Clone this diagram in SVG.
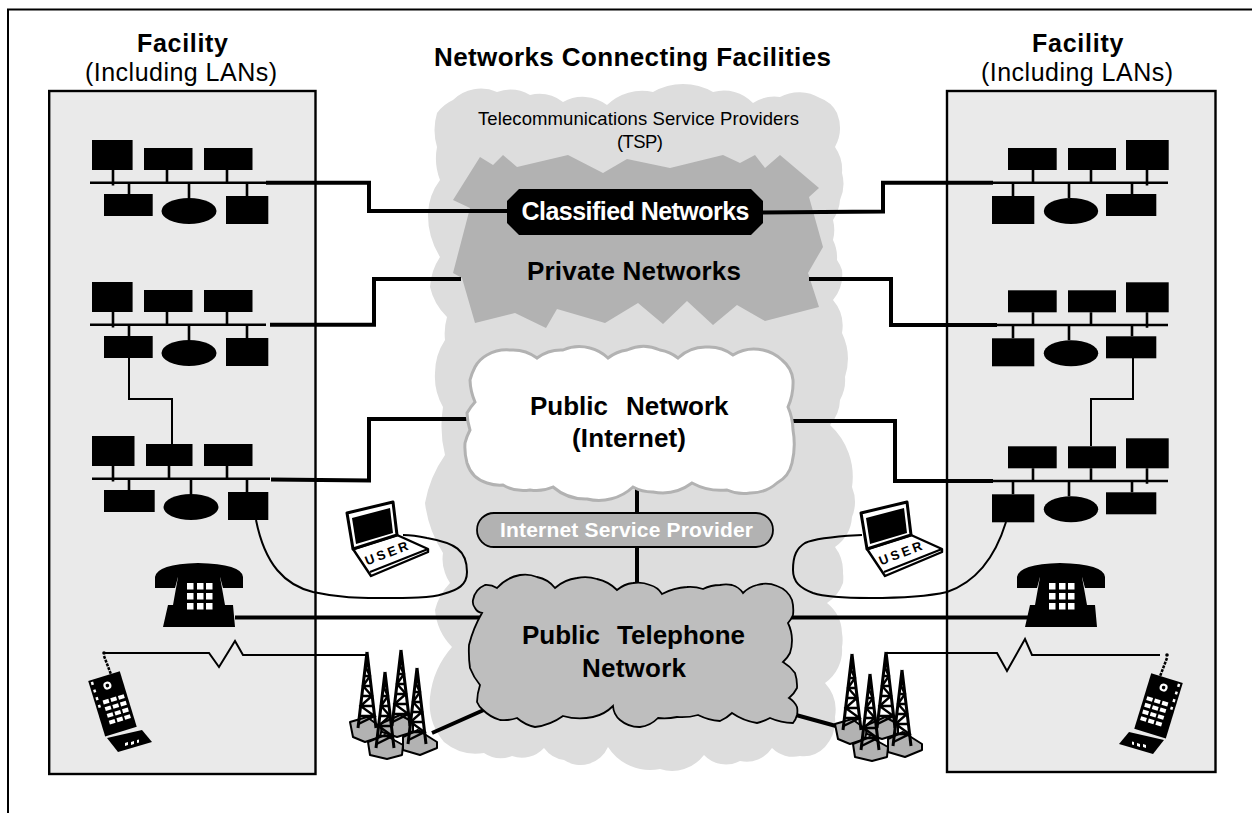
<svg xmlns="http://www.w3.org/2000/svg" xmlns:xlink="http://www.w3.org/1999/xlink" width="1252" height="813" viewBox="0 0 1252 813">
<style>
text{font-family:"Liberation Sans",Arial,sans-serif;fill:#000}
.b{font-weight:700;font-size:26px}
.f{font-weight:700;font-size:25px}
.r{font-size:25px}
.s{font-size:18.500px}
.fac{fill:#eaeaea;stroke:#000;stroke-width:2.4}
.k{fill:#000}
.bus{stroke:#000;stroke-width:2.6;fill:none}
.th{stroke:#000;stroke-width:4;fill:none;stroke-linejoin:miter}
.tn{stroke:#000;stroke-width:2;fill:none;stroke-linejoin:miter}
.hex{fill:#b2b2b2;stroke:#000;stroke-width:2;stroke-linejoin:round}
.tw{stroke:#000;fill:none}
.w{fill:#fff}
</style>
<defs>
<g id="lanL">
<rect class="k" x="92" y="140" width="40.6" height="30"/>
<rect class="k" x="144" y="148" width="48.5" height="22"/>
<rect class="k" x="204" y="148" width="48.5" height="22"/>
<path class="bus" d="M90 182.7H266M113 170V185.5M167 170V182.7M227 170V182.7M129 182.7V194M189 182.7V198M247 182.7V196"/>
<rect class="k" x="104" y="194" width="48.7" height="22"/>
<ellipse class="k" cx="189" cy="211" rx="27.5" ry="13"/>
<rect class="k" x="226" y="196" width="42.3" height="28"/>
</g>
<g id="lanR">
<rect class="k" x="1008" y="148" width="48.7" height="22"/>
<rect class="k" x="1068" y="148" width="48" height="22"/>
<rect class="k" x="1126" y="140" width="42.7" height="30"/>
<path class="bus" d="M993 182.7H1168M1033 170V182.7M1091 170V182.7M1147 170V185.5M1013 182.7V196M1069 182.7V198M1132 182.7V194"/>
<rect class="k" x="992" y="196" width="42.3" height="28"/>
<ellipse class="k" cx="1071" cy="211" rx="27.2" ry="13"/>
<rect class="k" x="1106" y="194" width="50.3" height="22"/>
</g>
<g id="desk">
<path class="k" d="M155 588V577Q157 564 198 563Q242 564 243 577V588H223L220 577H178L175 588Z"/>
<path class="k" d="M178 577H220L225 605H233L235 627H163L168 605H173Z"/>
<g class="w">
<rect x="187" y="583" width="6.5" height="6.5"/><rect x="197" y="583" width="6.5" height="6.5"/><rect x="206" y="583" width="6.5" height="6.5"/>
<rect x="187" y="593" width="6.5" height="6.5"/><rect x="197" y="593" width="6.5" height="6.5"/><rect x="206" y="593" width="6.5" height="6.5"/>
<rect x="187" y="603" width="6.5" height="6.5"/><rect x="197" y="603" width="6.5" height="6.5"/><rect x="206" y="603" width="6.5" height="6.5"/>
</g>
</g>
<g id="laptop">
<path d="M353 549L397 535L428 549L428 552L371 576Z" fill="#fff" stroke="#000" stroke-width="2.4" stroke-linejoin="round"/>
<path d="M370 572L428 549" stroke="#000" stroke-width="2" fill="none"/>
<path d="M347 513L393 502L397 535L353 549Z" fill="#fff" stroke="#000" stroke-width="3" stroke-linejoin="round"/>
<path class="k" d="M352 518L390 508L393 533L356 544Z"/>
<text transform="translate(367 565.500) rotate(-21)" font-size="13" font-weight="700" letter-spacing="3">USER</text>
</g>
<g id="tower">
<path class="tw" stroke-width="3" d="M0 0L-9 76M0 0L9 76"/>
<path class="tw" stroke-width="2.4" d="M-2 14H2M-3 24H3M-4 34H4M-5 44H5M-6.500 54H6.500M-7.500 64H7.500M-2 14L3 24L-4 34L5 44L-6.500 54L7.500 64L-8.500 72"/>
</g>
<g id="cluster">
<polygon class="hex" points="350,722 367,717 382,728 380,737 365,742 353,737"/>
<polygon class="hex" points="380,724 400,715 413,722 413,732 397,737 382,732"/>
<polygon class="hex" points="403,737 418,730 437,742 437,748 420,755 403,750"/>
<polygon class="hex" points="368,742 385,735 403,745 402,755 387,759 370,755"/>
<use xlink:href="#tower" transform="translate(367 652)"/>
<use xlink:href="#tower" transform="translate(401 650)"/>
<use xlink:href="#tower" transform="translate(385 672)"/>
<use xlink:href="#tower" transform="translate(417 668)"/>
</g>
<g id="mobile">
<circle cx="104" cy="653" r="1.800" class="k"/>
<path d="M104 656L112 677" stroke="#000" stroke-width="2.500" stroke-dasharray="3 1"/>
<g transform="translate(112 704) rotate(-17)">
<rect class="k" x="-16" y="-29" width="33" height="58"/>
<g class="w">
<circle cx="1" cy="-19" r="4"/>
<rect x="-14" y="-27" width="2.500" height="3"/><rect x="-14" y="-19" width="2.500" height="3"/><rect x="-14" y="-11" width="2.500" height="3"/>
<rect x="-14" y="-3" width="2.500" height="3"/>
<rect x="-8" y="-6" width="6" height="4"/><rect x="0" y="-6" width="6" height="4"/><rect x="8" y="-6" width="6" height="4"/>
<rect x="-8" y="1" width="6" height="4"/><rect x="0" y="1" width="6" height="4"/><rect x="8" y="1" width="6" height="4"/>
<rect x="-8" y="8" width="6" height="4"/><rect x="0" y="8" width="6" height="4"/><rect x="8" y="8" width="6" height="4"/>
<rect x="-8" y="15" width="6" height="4"/><rect x="0" y="15" width="6" height="4"/><rect x="8" y="15" width="6" height="4"/>
</g>
<circle cx="1" cy="-19" r="1.800" class="k"/>
</g>
<path class="k" d="M107 738L142 730L152 742L118 752Z"/>
<path class="w" d="M125 743l3-1v3l-3 1zM131 742l3-1v3l-3 1zM137 740l2-.5v3l-2 .5z"/>
</g>
</defs>

<path id="frame" d="M8 813V9.500H1252" fill="none" stroke="#000" stroke-width="2"/>

<g id="tsp-cloud">
<path fill="#dddddd" d="M437 113A40 40 0 0 1 453 100A40 40 0 0 1 497 92A40 40 0 0 1 530 95A40 40 0 0 1 563 102A40 40 0 0 1 607 105A50 50 0 0 1 653 92A60 60 0 0 1 713 92A40 40 0 0 1 753 103A40 40 0 0 1 780 97A40 40 0 0 1 820 98A30 30 0 0 1 837 113A40 40 0 0 1 835 147A40 40 0 0 1 842 173A40 40 0 0 1 840 200A40 40 0 0 1 833 220A40 40 0 0 1 833 240A40 40 0 0 1 837 260A40 40 0 0 1 842 270A40 40 0 0 1 833 300A40 40 0 0 1 842 333A60 60 0 0 1 845 377A40 40 0 0 1 840 400A40 40 0 0 1 830 425A70 70 0 0 1 852 487A40 40 0 0 1 852 517A40 40 0 0 1 835 547A40 40 0 0 1 843 573A40 40 0 0 1 843 583A40 40 0 0 1 827 603A40 40 0 0 1 842 633A40 40 0 0 1 842 647A40 40 0 0 1 825 683A40 40 0 0 1 835 717A40 40 0 0 1 825 747A30 30 0 0 1 800 756A30 30 0 0 1 772 748A30 30 0 0 1 740 761A30 30 0 0 1 704 755A40 40 0 0 1 660 769A50 50 0 0 1 608 747A30 30 0 0 1 564 760A30 30 0 0 1 544 748A30 30 0 0 1 512 756A30 30 0 0 1 484 753A50 50 0 0 1 444 742A60 60 0 0 1 430 697A90 90 0 0 1 452 647A60 60 0 0 1 435 610A60 60 0 0 1 450 583A40 40 0 0 1 445 573A40 40 0 0 1 443 553A120 120 0 0 1 425 503A120 120 0 0 1 445 455A120 120 0 0 1 443 407A60 60 0 0 1 435 373A60 60 0 0 1 445 340A60 60 0 0 1 447 317A60 60 0 0 1 430 287A60 60 0 0 1 440 257A80 80 0 0 1 428 213A60 60 0 0 1 440 180A60 60 0 0 1 437 147A60 60 0 0 1 437 113Z"/>
<text class="s" x="478" y="125" textLength="321">Telecommunications Service Providers</text>
<text class="s" x="617" y="148" textLength="46">(TSP)</text>
</g>

<g id="facility-left">
<rect class="fac" x="49.200" y="91" width="266.300" height="683"/>
<text class="f" x="137" y="52" textLength="91">Facility</text>
<text class="r" x="85" y="80.500" textLength="192">(Including LANs)</text>
</g>
<g id="facility-right">
<rect class="fac" x="947" y="91" width="268.500" height="681"/>
<text class="f" x="1032" y="52" textLength="91.500">Facility</text>
<text class="r" x="981" y="80.500" textLength="192">(Including LANs)</text>
</g>
<g id="title"><text class="b" x="434" y="66" textLength="397">Networks Connecting Facilities</text></g>

<g id="private-networks">
<polygon fill="#b2b2b2" points="480,157 493,165 503,155 517,167 568,155 603,173 627,159 670,168 723,155 740,163 755,155 765,168 780,155 819,188 809,197 823,247 808,273 819,307 765,321 737,305 713,325 687,301 663,324 638,303 605,323 557,309 546,328 515,313 475,323 462,278 453,273 470,208 453,200"/>
<text class="b" x="527" y="280" textLength="214">Private Networks</text>
</g>

<g id="connectors">
<path class="th" d="M266 182.700H369V211H510"/>
<path class="th" d="M993 182.700H883V211.500L760 212.500"/>
<path class="th" d="M270 324.700H374V279H461"/>
<path class="th" d="M997 325H891V279H809"/>
<path class="th" d="M271 479.500L369 480.500V419H470"/>
<path class="th" d="M993 481H895V421H790"/>
<path class="tn" d="M129 358V399H172V444"/>
<path class="tn" d="M1133 358V399H1091V446"/>
<path class="th" d="M637 489V513M637 547V585"/>
<path class="th" d="M235 617.500H480"/>
<path class="th" d="M788 617.500H1030"/>
<path class="th" d="M432 733L486 709"/>
<path class="th" d="M796 715L836 726"/>
<path class="tn" d="M104 653H209L219 667L235 641L243 655H367"/>
<path class="tn" d="M886 653H997L1007 671L1025 639L1032 655H1160"/>
<path class="tn" d="M256 520C265 565 285 585 313 592C340 598 360 598 377 598C410 598 432 598 443 594C458 590 467 585 467 572C467 550 455 543 427 538C418 536 410 535 403 535"/>
<path class="tn" d="M1006 522C998 548 982 580 947 592C925 597 895 598 870 598C850 598 825 597 813 593C800 588 793 582 793 570C793 555 797 548 805 543C818 537 845 536 862 535"/>
</g>

<g id="classified-networks">
<polygon class="k" points="519,189 751,189 763,201 763,223 751,235 519,235 507,223 507,201"/>
<text class="b" x="521.500" y="220" textLength="228" style="fill:#fff;font-size:25px">Classified Networks</text>
</g>
<g id="public-network">
<path fill="#fff" stroke="#b2b2b2" stroke-width="3" d="M475 367A30 30 0 0 1 487 355A40 40 0 0 1 510 350A40 40 0 0 1 537 358A40 40 0 0 1 563 350A40 40 0 0 1 590 348A40 40 0 0 1 608 358A40 40 0 0 1 627 350A40 40 0 0 1 660 350A40 40 0 0 1 678 358A40 40 0 0 1 707 347A40 40 0 0 1 733 355A40 40 0 0 1 763 350A40 40 0 0 1 782 360A30 30 0 0 1 793 380A60 60 0 0 1 788 407A60 60 0 0 1 793 430A80 80 0 0 1 792 463A30 30 0 0 1 777 483A40 40 0 0 1 750 493A40 40 0 0 1 727 490A60 60 0 0 1 692 483A50 50 0 0 1 653 492A40 40 0 0 1 633 487A50 50 0 0 1 587 499A50 50 0 0 1 553 487A40 40 0 0 1 530 490A40 40 0 0 1 503 485A40 40 0 0 1 487 483A30 30 0 0 1 467 463A60 60 0 0 1 465 443A60 60 0 0 1 470 430A60 60 0 0 1 467 413A60 60 0 0 1 475 402A60 60 0 0 1 470 380A60 60 0 0 1 475 367Z"/>
<text class="b" x="530" y="415">Public <tspan x="626">Network</tspan></text>
<text class="b" x="572" y="447" textLength="114">(Internet)</text>
</g>
<g id="isp">
<rect x="477" y="513" width="296" height="34" rx="17" fill="#b2b2b2" stroke="#000" stroke-width="1.800"/>
<text x="500" y="537" font-size="21" font-weight="700" textLength="253" style="fill:#fff">Internet Service Provider</text>
</g>
<g id="public-telephone">
<path fill="#bebebe" stroke="#000" stroke-width="1.800" d="M473 600A20 20 0 0 1 485 585A20 20 0 0 1 497 588A40 40 0 0 1 520 575A30 30 0 0 1 537 577A30 30 0 0 1 555 588A40 40 0 0 1 577 578A40 40 0 0 1 597 579A40 40 0 0 1 617 590A30 30 0 0 1 633 583A30 30 0 0 1 650 585A20 20 0 0 1 662 594A60 60 0 0 1 687 587A40 40 0 0 1 703 589A40 40 0 0 1 720 585A30 30 0 0 1 732 585A20 20 0 0 1 743 593A30 30 0 0 1 757 585A30 30 0 0 1 777 586A25 25 0 0 1 792 600A40 40 0 0 1 793 615A30 30 0 0 1 788 623A40 40 0 0 1 792 640A40 40 0 0 1 790 653A30 30 0 0 1 783 662A40 40 0 0 1 795 673A40 40 0 0 1 797 688A30 30 0 0 1 789 698A20 20 0 0 1 797 707A20 20 0 0 1 797 715A20 20 0 0 1 793 723A60 60 0 0 1 770 718A50 50 0 0 1 757 723A60 60 0 0 1 732 713A40 40 0 0 1 720 721A60 60 0 0 1 698 715A60 60 0 0 1 677 717A60 60 0 0 1 658 718A30 30 0 0 1 640 727A30 30 0 0 1 620 720A20 20 0 0 1 613 706A40 40 0 0 1 593 717A60 60 0 0 1 563 716A60 60 0 0 1 535 727A40 40 0 0 1 517 718A40 40 0 0 1 500 720A40 40 0 0 1 483 710A20 20 0 0 1 477 702A60 60 0 0 1 480 685A60 60 0 0 1 470 668A120 120 0 0 1 469 645A120 120 0 0 1 482 613A10 10 0 0 1 475 608A10 10 0 0 1 473 600Z"/>
<text class="b" x="522" y="644">Public <tspan x="617">Telephone</tspan></text>
<text class="b" x="582" y="677" textLength="104">Network</text>
</g>

<use id="lan-left-1" xlink:href="#lanL"/>
<use id="lan-left-2" xlink:href="#lanL" transform="translate(0 142)"/>
<g id="lan-left-3">
<rect class="k" x="92" y="436" width="42.500" height="30"/>
<rect class="k" x="146" y="444" width="46.500" height="22"/>
<rect class="k" x="204" y="444" width="48.500" height="22"/>
<path class="bus" d="M92 478.700H270M113 466V481.500M169 466V478.700M227 466V478.700M129 478.700V490M191 478.700V494M247 478.700V492"/>
<rect class="k" x="104" y="490" width="50.700" height="22"/>
<ellipse class="k" cx="191" cy="507" rx="27.500" ry="13"/>
<rect class="k" x="228" y="492" width="40.300" height="28"/>
</g>
<use id="lan-right-1" xlink:href="#lanR"/>
<use id="lan-right-2" xlink:href="#lanR" transform="translate(0 142.300)"/>
<use id="lan-right-3" xlink:href="#lanR" transform="translate(0 298.300)"/>

<use id="phone-left" xlink:href="#desk"/>
<use id="phone-right" xlink:href="#desk" transform="translate(862 0)"/>
<use id="laptop-left" xlink:href="#laptop"/>
<use id="laptop-right" xlink:href="#laptop" transform="translate(514 0)"/>
<use id="towers-left" xlink:href="#cluster"/>
<use id="towers-right" xlink:href="#cluster" transform="translate(485 2)"/>
<use id="mobile-left" xlink:href="#mobile"/>
<use id="mobile-right" xlink:href="#mobile" transform="translate(1271 2) scale(-1 1)"/>
</svg>
